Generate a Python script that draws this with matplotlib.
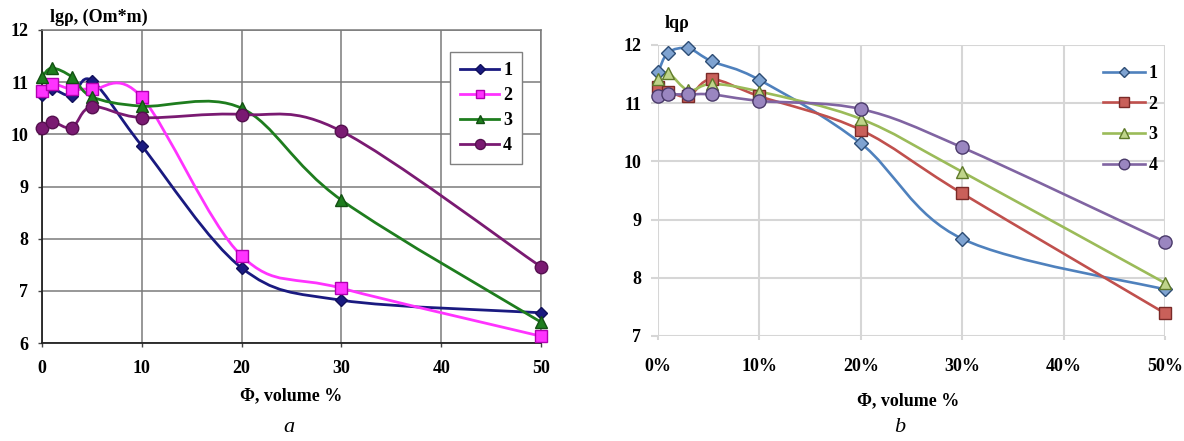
import numpy as np
import matplotlib
matplotlib.use('Agg')
import matplotlib.pyplot as plt
from matplotlib.path import Path
from matplotlib.patches import PathPatch
from matplotlib.lines import Line2D

plt.rcParams['font.family'] = ['Liberation Serif', 'DejaVu Serif']
plt.rcParams['font.weight'] = 'bold'

# Datos (a): izquierda
x_a = [0, 1, 3, 5, 10, 20, 30, 50]
a1 = [10.75, 10.87, 10.74, 11.03, 9.78, 7.44, 6.82, 6.58]
a2 = [10.84, 10.97, 10.86, 10.86, 10.71, 7.67, 7.05, 6.13]
a3 = [11.10, 11.27, 11.10, 10.72, 10.54, 10.50, 8.74, 6.40]
a4 = [10.12, 10.24, 10.13, 10.53, 10.32, 10.38, 10.06, 7.46]

# Datos (b): derecha
x_b = [0, 1, 3, 5.3, 10, 20, 30, 50]
b1 = [11.53, 11.87, 11.94, 11.72, 11.40, 10.31, 8.67, 7.80]
b2 = [11.28, 11.20, 11.12, 11.41, 11.12, 10.54, 9.45, 7.39]
b3 = [11.41, 11.52, 11.22, 11.33, 11.20, 10.73, 9.82, 7.91]
b4 = [11.13, 11.15, 11.15, 11.15, 11.04, 10.90, 10.24, 8.62]

etiquetas = ['1', '2', '3', '4']
W, H = 1184, 441


def curva_suave(x, y):
    # linea suavizada tipo Excel (Catmull-Rom -> Bezier)
    pts = np.column_stack([x, y]).astype(float)
    n = len(pts)
    verts = [pts[0]]
    codes = [Path.MOVETO]
    for i in range(n - 1):
        p0 = pts[max(i - 1, 0)]
        p1 = pts[i]
        p2 = pts[i + 1]
        p3 = pts[min(i + 2, n - 1)]
        verts += [p1 + (p2 - p0) / 6, p2 - (p3 - p1) / 6, p2]
        codes += [Path.CURVE4] * 3
    return Path(verts, codes)


fig = plt.figure(figsize=(W / 100, H / 100), dpi=100)

# ---------- (a) ----------
ax1 = fig.add_axes([42 / W, 1 - 343 / H, (541 - 42) / W, (343 - 30) / H])
estilos_a = [
    (a1, '#1a1a80', 'D', 6.5, '#10105a'),
    (a2, '#ff33ff', 's', 8, '#b000b0'),
    (a3, '#1e7d1e', '^', 8, '#125012'),
    (a4, '#7a1a72', 'o', 9, '#55104f'),
]
handles_a = []
for (ys, col, mk, ms, ec), lab in zip(estilos_a, etiquetas):
    ax1.add_patch(PathPatch(curva_suave(x_a, ys), fill=False, edgecolor=col, lw=2, zorder=3))
    ax1.plot(x_a, ys, ls='none', marker=mk, ms=ms, mfc=col, mec=ec, mew=1, zorder=4, clip_on=False)
    handles_a.append(Line2D([], [], color=col, lw=2, marker=mk, ms=ms * 0.8, mfc=col, mec=ec))

ax1.set_xlim(0, 50)
ax1.set_ylim(6, 12)
ax1.set_xticks(range(0, 51, 10))
ax1.set_yticks(range(6, 13))
ax1.grid(True, color='#7a7a7a', lw=1.1)
ax1.set_axisbelow(True)
for s in ['left', 'bottom']:
    ax1.spines[s].set_color('#222222')
    ax1.spines[s].set_linewidth(1.3)
for s in ['top', 'right']:
    ax1.spines[s].set_color('#7a7a7a')
    ax1.spines[s].set_linewidth(1.1)
ax1.tick_params(labelsize=13, length=3, width=1, pad=7, color='#444444')
ax1.tick_params(axis='x', pad=9)
ax1.legend(handles_a, etiquetas, loc='upper right', bbox_to_anchor=(522 / W, 1 - 52 / H),
           bbox_transform=fig.transFigure, borderaxespad=0, fancybox=False,
           edgecolor='#808080', framealpha=1, fontsize=13, handlelength=2.2,
           labelspacing=0.45, handletextpad=0.2, borderpad=0.55)

fig.text(50 / W, 1 - 17 / H, 'lgρ, (Om*m)', fontsize=13, fontweight='bold', ha='left', va='center')
fig.text(291 / W, 1 - 396 / H, 'Φ, volume %', fontsize=13, fontweight='bold', ha='center', va='center')
fig.text(289 / W, 1 - 428 / H, 'a', fontsize=16, fontweight='normal', style='italic', ha='center', va='center')

# ---------- (b) ----------
ax2 = fig.add_axes([658 / W, 1 - 336 / H, (1165 - 658) / W, (336 - 45) / H])
estilos_b = [
    (b1, '#4f81bd', 'D', 7, '#7fa3d1', '#2d4d75'),
    (b2, '#c0504d', 's', 8.5, '#c9605a', '#7a2a28'),
    (b3, '#9bbb59', '^', 8.5, '#bfd48a', '#5f7a2a'),
    (b4, '#8064a2', 'o', 9.5, '#9a86c0', '#4a3a6a'),
]
handles_b = []
for (ys, col, mk, ms, fc, ec), lab in zip(estilos_b, etiquetas):
    ax2.add_patch(PathPatch(curva_suave(x_b, ys), fill=False, edgecolor=col, lw=1.9, zorder=3))
    ax2.plot(x_b, ys, ls='none', marker=mk, ms=ms, mfc=fc, mec=ec, mew=1, zorder=4, clip_on=False)
    handles_b.append(Line2D([], [], color=col, lw=1.9, marker=mk, ms=ms * 0.8, mfc=fc, mec=ec))

ax2.set_xlim(0, 50)
ax2.set_ylim(7, 12)
ax2.set_xticks(range(0, 51, 10))
ax2.set_xticklabels([f'{v}%' for v in range(0, 51, 10)])
ax2.set_yticks(range(7, 13))
ax2.grid(True, color='#d6d6d6', lw=1.5)
ax2.set_axisbelow(True)
for s in ax2.spines.values():
    s.set_visible(False)
ax2.tick_params(labelsize=13, color='#d6d6d6', width=1.5)
ax2.tick_params(axis='y', length=5, pad=7)
ax2.tick_params(axis='x', length=3, pad=13)
ax2.legend(handles_b, etiquetas, loc='upper left', bbox_to_anchor=(1096 / W, 1 - 58 / H),
           bbox_transform=fig.transFigure, borderaxespad=0, frameon=False, fontsize=13,
           handlelength=2.3, labelspacing=0.75, handletextpad=0.2)

fig.text(665 / W, 1 - 24 / H, 'lqρ', fontsize=13, fontweight='bold', ha='left', va='center')
fig.text(908 / W, 1 - 401 / H, 'Φ, volume %', fontsize=13, fontweight='bold', ha='center', va='center')
fig.text(900 / W, 1 - 428 / H, 'b', fontsize=16, fontweight='normal', style='italic', ha='center', va='center')

fig.savefig('out.png', dpi=100, facecolor='white')
